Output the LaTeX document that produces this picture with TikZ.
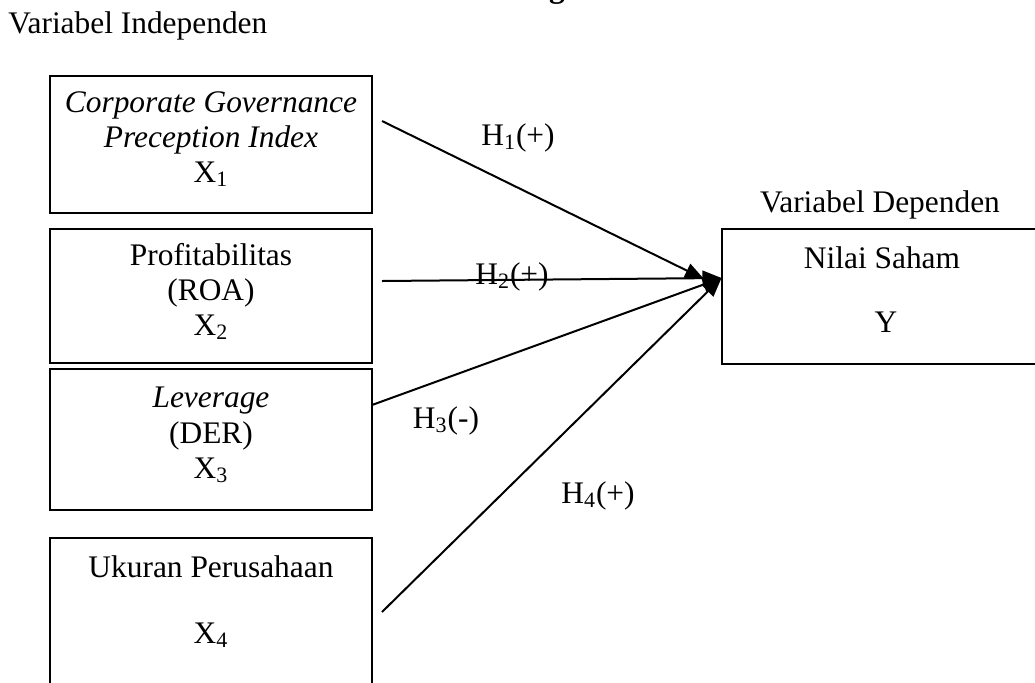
\documentclass[tikz,border=0pt]{standalone}
\usepackage{fontspec}
\setmainfont{Liberation Serif}
\usetikzlibrary{arrows.meta}
\tikzset{
  x=0.5pt, y=-0.5pt,
  box/.style={draw, line width=1pt, inner sep=0pt},
  txt/.style={anchor=base, inner sep=0pt, font=\fontsize{15.7}{17.5}\selectfont},
  arr/.style={line width=1pt, -{Triangle[length=9.5pt,width=7.5pt]}},
}
\begin{document}
\begin{tikzpicture}
\useasboundingbox (0,0) rectangle (1035,682);
% cut-off title fragment (only its descender lies inside the picture)
\node[txt, font=\fontsize{15.7}{17.5}\selectfont\bfseries] (title) at (557,-3) {g};
\node[txt, anchor=base west] (vi) at (8,33) {Variabel Independen};
% boxes
\node[box, minimum width=161pt, minimum height=68.5pt] (b1) at (211,144.5) {};
\node[box, minimum width=161pt, minimum height=67pt] (b2) at (211,296) {};
\node[box, minimum width=161pt, minimum height=70.25pt] (b3) at (211,439.25) {};
\node[box, minimum width=161pt, minimum height=85pt] (b4) at (211,623) {};
\node[box, minimum width=180pt, minimum height=67.5pt] (by) at (901.5,296.5) {};
% box texts
\node[txt] (t1a) at (211,112) {\itshape Corporate Governance};
\node[txt] (t1b) at (211,147) {\itshape Preception Index};
\node[txt] (t1c) at (211,182) {X\textsubscript{1}};
\node[txt] (t2a) at (211,265) {Profitabilitas};
\node[txt] (t2b) at (211,300) {(ROA)};
\node[txt] (t2c) at (211,335) {X\textsubscript{2}};
\node[txt] (t3a) at (211,407) {\itshape Leverage};
\node[txt] (t3b) at (211,443) {(DER)};
\node[txt] (t3c) at (211,478) {X\textsubscript{3}};
\node[txt] (t4a) at (211,577) {Ukuran Perusahaan};
\node[txt] (t4b) at (211,643) {X\textsubscript{4}};
\node[txt] (vd) at (880,212) {Variabel Dependen};
\node[txt] (ya) at (882,268) {Nilai Saham};
\node[txt] (yb) at (886,332) {Y};
% connectors
\coordinate (s1) at (382,121);
\coordinate (s2) at (382,281);
\coordinate (s3) at (372,405);
\coordinate (s4) at (382,612);
\coordinate (e1) at (704,279);
\coordinate (e) at (721.5,278);
\draw[arr] (s1) -- (e1);
\draw[arr] (s2) -- (e);
\draw[arr] (s3) -- (e);
\draw[arr] (s4) -- (e);
% labels
\node[txt] (h1) at (518,145) {H\textsubscript{1}(+)};
\node[txt] (h2) at (512,284) {H\textsubscript{2}(+)};
\node[txt] (h3) at (446,428) {H\textsubscript{3}(-)};
\node[txt] (h4) at (598,503) {H\textsubscript{4}(+)};
\end{tikzpicture}
\end{document}
